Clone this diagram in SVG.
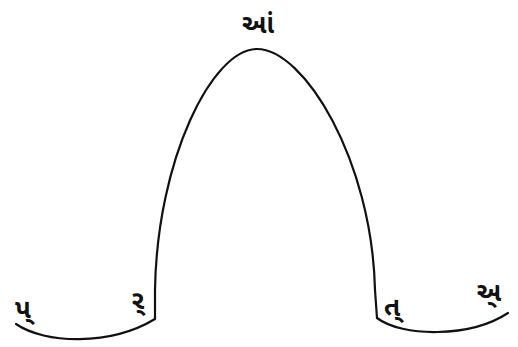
<svg xmlns="http://www.w3.org/2000/svg" width="518" height="347" viewBox="0 0 518 347">
<style>
.c{fill:none;stroke:#111;stroke-width:2.2;stroke-linecap:round;stroke-linejoin:round}
.t{font-family:"Noto Sans Gujarati","Noto Sans",sans-serif;font-size:26px;fill:#111;font-weight:bold}
</style>
<rect width="518" height="347" fill="#fff"/>
<g id="connectors">
<path class="c" d="M155,319 L155,290 C157,160 212,49 257,49 C304,49 372,160 375,290 L377,318"/>
<path class="c" d="M16,324 C45,344 110,346 155,319"/>
<path class="c" d="M377,318 C402,337 470,338 508,313"/>
</g>
<g id="n-top"><text class="t" x="258" y="33" text-anchor="middle">આં</text></g>
<g id="n-pa"><text class="t" x="23" y="318" text-anchor="middle">પ્</text></g>
<g id="n-ra"><text class="t" x="138" y="309" text-anchor="middle">ર્</text></g>
<g id="n-ta"><text class="t" x="392" y="316" text-anchor="middle">ત્</text></g>
<g id="n-a"><text class="t" x="489" y="301" text-anchor="middle">અ્</text></g>
</svg>
